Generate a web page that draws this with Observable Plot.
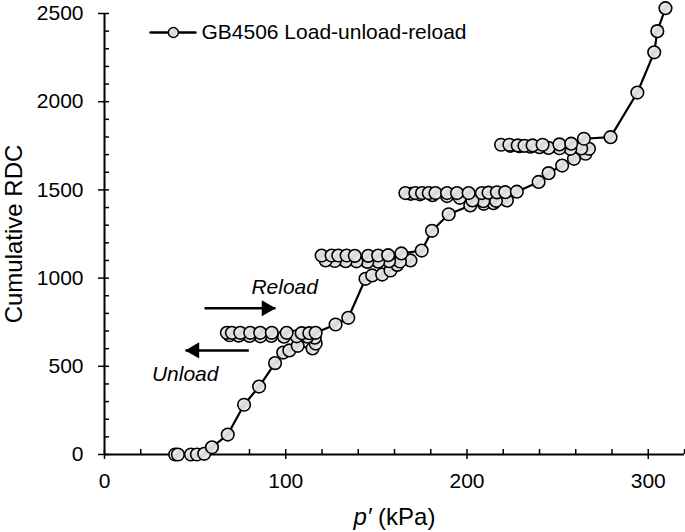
<!DOCTYPE html>
<html><head><meta charset="utf-8">
<script src="https://cdn.jsdelivr.net/npm/d3@7"></script>
<script src="https://cdn.jsdelivr.net/npm/@observablehq/plot@0.6"></script>
<style>html,body{margin:0;padding:0;background:#fff;}</style>
</head><body><div id="chart"></div>
<script>
// ---- data ----
const seriesName = "GB4506 Load-unload-reload";
const pValues = [
  39, 40.5, 47.7, 51, 55, 59.3, 68, 77, 85.3, 94.1, 98.6, 102, 106.6, 114.8, 116.5, 116,
  112, 106, 99, 92, 86, 80, 74, 69,
  67.5, 70.3, 74.9, 80.4, 85.9, 92.3, 100.5, 108.8, 113, 116.5,
  127.5, 134.5, 144, 147.7, 153.2, 157.8, 161.5, 168.8,
  163, 157, 151, 145, 139, 133, 127, 122,
  119.8, 125.3, 129, 133.6, 138.1, 145.5, 151, 156.5, 163.8,
  175, 180.7, 189.9, 201.8, 209.2, 214.6, 222,
  216, 209, 203, 196, 189, 181, 174, 169,
  166, 171.5, 175.2, 178.9, 182.6, 189, 194.5, 200.9, 208.2, 211.9, 216.5, 221.1, 227.5,
  239.5, 245, 252.5, 259, 265.4, 267.3,
  263, 257, 251, 245, 240, 235, 229, 224,
  218.8, 223.4, 228, 231.7, 236.2, 241.7, 251, 257.5, 264.5,
  279.2, 294, 303.3, 305, 309.5
];
const rdcValues = [
  0, 0, 0, 0, 4, 41, 113, 282, 385, 518, 578, 590, 616, 601, 629, 662,
  668, 670, 668, 672, 670, 672, 674, 676,
  690, 690, 690, 690, 690, 690, 690, 688, 688, 690,
  737, 775, 996, 1015, 1020, 1043, 1075, 1100,
  1094, 1096, 1093, 1092, 1095, 1096, 1097, 1100,
  1128, 1128, 1128, 1128, 1126, 1126, 1128, 1130, 1140,
  1156, 1268, 1362, 1412, 1421, 1425, 1440,
  1438, 1436, 1440, 1455, 1465, 1470, 1475, 1478,
  1482, 1482, 1482, 1482, 1482, 1482, 1482, 1482, 1482, 1484, 1486, 1487, 1490,
  1545, 1595, 1638, 1676, 1705, 1733,
  1735, 1733, 1736, 1738, 1742, 1745, 1748, 1750,
  1756, 1756, 1752, 1750, 1752, 1756, 1758, 1762, 1790,
  1799, 2052, 2280, 2400, 2530
];
const xTicks = [0, 100, 200, 300];
const yTicks = [0, 500, 1000, 1500, 2000, 2500];
const xMinorTicks = d3.range(0, 321, 20);
const yMinorTicks = d3.range(0, 2501, 100);
const xTitle = "p′ (kPa)";
const yTitle = "Cumulative RDC";
// annotations (data coordinates)
const annotationLabels = ["Reload", "Unload"];
const annotationX = [99.4, 44.5];
const annotationY = [948, 456];
const arrowTail = [55.2, 79.6];
const arrowTip = [94.3, 44.7];
const arrowY = [829, 590];
// legend (data coordinates)
const legendLineX = [25.4, 50.2];
const legendDotX = [38];
const legendTextX = [53.5];
const legendY = 2392;

// ---- build ----
const data = pValues.map((p, i) => ({p, rdc: rdcValues[i]}));
const annotations = annotationLabels.map((label, i) => ({label, x: annotationX[i], y: annotationY[i]}));
const arrows = arrowTail.map((t, i) => ({x1: t, x2: arrowTip[i], y: arrowY[i]}));
const legendLine = legendLineX.map(x => ({x, y: legendY}));
const legendDot = legendDotX.map(x => ({x, y: legendY}));
const legendText = legendTextX.map(x => ({x, y: legendY, label: seriesName}));

const fontFamily = "'Liberation Sans', Arial, Helvetica, sans-serif";

const chart = Plot.plot({
  width: 685, height: 532,
  marginLeft: 104, marginRight: 1, marginTop: 13, marginBottom: 78,
  x: {domain: [0, 320]},
  y: {domain: [0, 2500]},
  style: {fontFamily, fontSize: "21px", color: "#000", background: "#fff", overflow: "visible"},
  marks: [
    Plot.axisX({ticks: xMinorTicks, tickSize: 5, dy: -5, text: null, label: null, strokeWidth: 1.5}),
    Plot.axisY({ticks: yMinorTicks, tickSize: 5, dx: 5, text: null, label: null, strokeWidth: 1.5}),
    Plot.axisX({ticks: xTicks, tickSize: 5, tickPadding: 14, tickFormat: d => String(d), label: null, fontSize: 21, strokeWidth: 1.5}),
    Plot.axisY({ticks: yTicks, tickSize: 6, tickPadding: 15, tickFormat: d => String(d), label: null, fontSize: 21, strokeWidth: 1.5}),
    Plot.ruleY([0], {stroke: "#000", strokeWidth: 2}),
    Plot.ruleX([0], {stroke: "#000", strokeWidth: 2}),
    Plot.text([xTitle], {frameAnchor: "bottom", textAnchor: "middle", lineAnchor: "middle", dy: 63, fontSize: 24}),
    Plot.text([yTitle], {frameAnchor: "left", textAnchor: "middle", lineAnchor: "middle", dx: -90, rotate: -90, fontSize: 24}),
    // series
    Plot.line(data, {x: "p", y: "rdc", stroke: "#000", strokeWidth: 2.2}),
    Plot.dot(data, {x: "p", y: "rdc", r: 6.3, fill: "url(#ballFill)", stroke: "#000", strokeWidth: 1.6}),
    // legend
    Plot.line(legendLine, {x: "x", y: "y", stroke: "#000", strokeWidth: 2.5}),
    Plot.dot(legendDot, {x: "x", y: "y", r: 5, fill: "url(#ballFill)", stroke: "#000", strokeWidth: 1.4}),
    Plot.text(legendText, {x: "x", y: "y", text: "label", textAnchor: "start", fontSize: 21}),
    // annotations
    Plot.text(annotations, {x: "x", y: "y", text: "label", fontStyle: "italic", fontSize: 21}),
    Plot.link(arrows, {x1: "x1", x2: "x2", y1: "y", y2: "y", stroke: "#000", strokeWidth: 2.5}),
    Plot.dot(arrows.filter(d => d.x2 > d.x1), {x: "x2", y: "y", symbol: "triangle", rotate: 90, r: 6, fill: "#000", stroke: "none", dx: -9}),
    Plot.dot(arrows.filter(d => d.x2 < d.x1), {x: "x2", y: "y", symbol: "triangle", rotate: -90, r: 6, fill: "#000", stroke: "none", dx: 9})
  ]
});

// gradient fill for the circle markers
const defs = document.createElementNS("http://www.w3.org/2000/svg", "defs");
defs.innerHTML = '<linearGradient id="ballFill" x1="0" y1="0" x2="1" y2="1">' +
  '<stop offset="0" stop-color="#ffffff"/><stop offset="0.5" stop-color="#d6d6d6"/><stop offset="1" stop-color="#ffffff"/></linearGradient>';
chart.insertBefore(defs, chart.firstChild);

// italic p′ in the x title
chart.querySelectorAll("text").forEach(t => {
  if (t.textContent === xTitle) {
    t.innerHTML = '<tspan font-style="italic">p′</tspan> (kPa)';
  }
});

document.getElementById("chart").appendChild(chart);
</script>
</body></html>
